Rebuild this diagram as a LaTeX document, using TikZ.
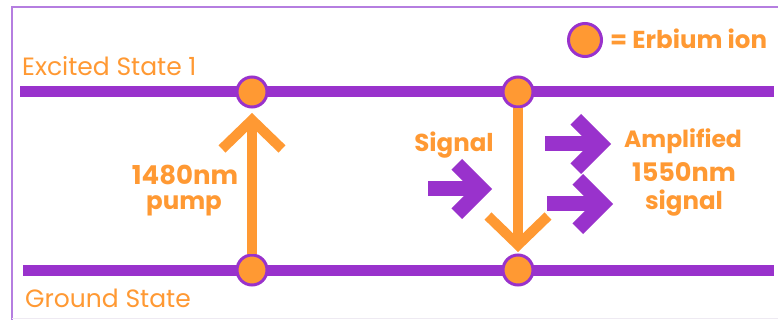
\documentclass[tikz,border=0pt]{standalone}
\usepackage{fontspec}
\setmainfont{Poppins}
\usetikzlibrary{arrows.meta}
\definecolor{erpurple}{HTML}{9932CC}
\definecolor{erorange}{HTML}{FF9933}
\definecolor{framecol}{HTML}{B57EE0}
\definecolor{faintcol}{HTML}{EEEAF2}
\newcommand\beamarrow[3]{%
  \fill[beam] (#1,{#3-7.5}) rectangle ({#2-20},{#3+7.5});
  \fill[beam] (#2,#3) -- ({#2-30},{#3-30}) -- ({#2-40.6},{#3-19.4}) -- ({#2-21.2},#3)
     -- ({#2-40.6},{#3+19.4}) -- ({#2-30},{#3+30}) -- cycle;}
\begin{document}
\begin{tikzpicture}[x=1pt,y=-1pt,
  level/.style={line width=11pt, draw=erpurple},
  ion/.style={circle, fill=erorange, draw=erpurple, line width=3pt, minimum size=30pt, inner sep=0pt},
  thinlabel/.style={text=erorange, font=\fontsize{25}{28}\selectfont, anchor=base west, inner sep=0pt},
  boldlabel/.style={text=erorange, font=\bfseries\fontsize{24.5}{28}\selectfont, anchor=base, inner sep=0pt},
  transition/.style={draw=erorange, line width=10pt, -{Straight Barb[length=29pt,width=60pt,sharp]}},
  beam/.style={fill=erpurple},
  frameline/.style={draw=framecol, line width=1.5pt}
]
\useasboundingbox (0,0) rectangle (778,320);
\fill[white] (0,0) rectangle (778,320);
% frame
\draw[frameline] (800,7) -- (12,7) -- (12,320);
\draw[draw=faintcol, line width=1pt] (12,318) -- (800,318);
% energy levels
\draw[level] (20,92) -- (774,92);
\draw[level] (23,270) -- (774,270);
% ions
\node[ion] (e1) at (252,92) {};
\node[ion] (e2) at (518,92) {};
\node[ion] (g1) at (252,270) {};
\node[ion] (g2) at (518,270) {};
\node[ion, minimum size=33pt] (leg) at (585,40) {};
% transitions
\draw[transition] (g1.north) -- ([yshift=-4.5pt]e1.south);
\draw[transition] (e2.south) -- ([yshift=1.5pt]g2.north);
% signal beams
\beamarrow{428}{492}{189}
\beamarrow{545}{611}{144}
\beamarrow{547}{613}{204}
% labels
\node[thinlabel] (exc) at (22,76) {Excited State 1};
\node[thinlabel] (gnd) at (25,307) {Ground State};
\node[boldlabel, anchor=base west] (legtext) at (610,49) {= Erbium ion};
\node[boldlabel, font=\bfseries\fontsize{26}{28}\selectfont] (p1) at (185,185) {1480nm};
\node[boldlabel] (p2) at (184,210) {pump};
\node[boldlabel] (sig) at (454,152) {Signal};
\node[boldlabel, font=\bfseries\fontsize{23.5}{28}\selectfont] (a1) at (683,148) {Amplified};
\node[boldlabel, font=\bfseries\fontsize{25.5}{28}\selectfont] (a2) at (684,182) {1550nm};
\node[boldlabel] (a3) at (684,210) {signal};
\end{tikzpicture}
\end{document}
